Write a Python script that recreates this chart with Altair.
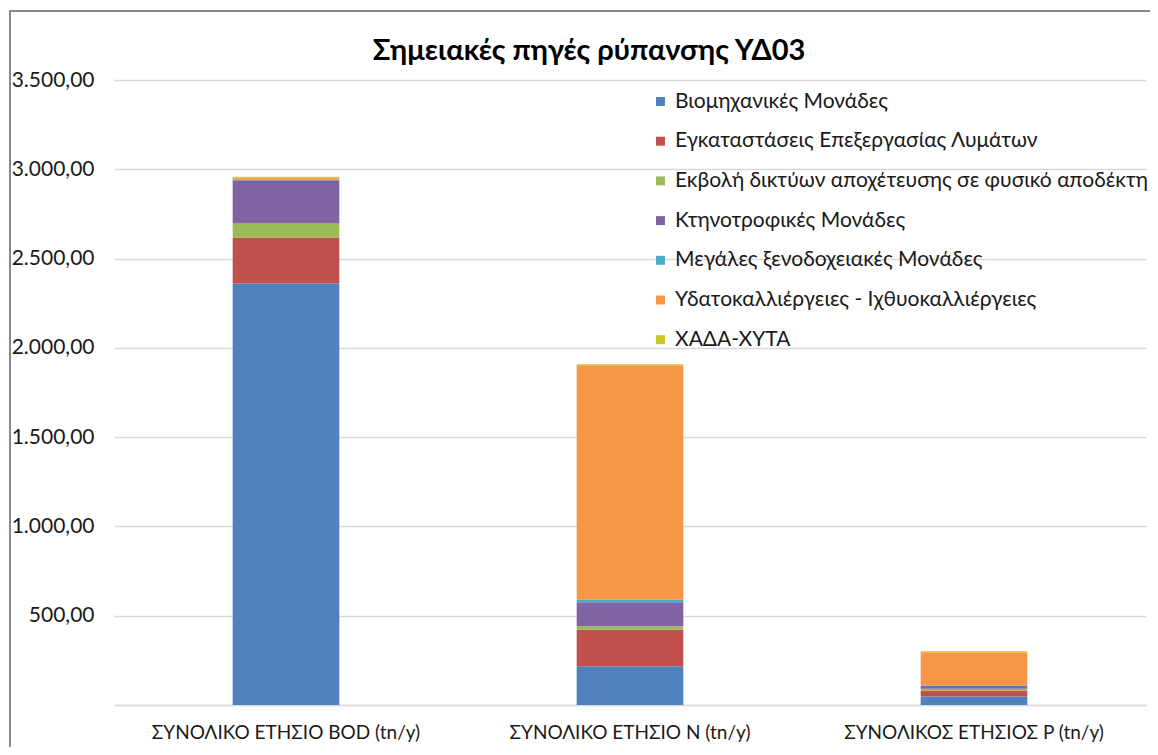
import altair as alt
import pandas as pd

categories = ["ΣΥΝΟΛΙΚΟ ΕΤΗΣΙΟ BOD (tn/y)", "ΣΥΝΟΛΙΚΟ ΕΤΗΣΙΟ N (tn/y)", "ΣΥΝΟΛΙΚΟΣ ΕΤΗΣΙΟΣ P (tn/y)"]
series = [
    "Βιομηχανικές Μονάδες",
    "Εγκαταστάσεις Επεξεργασίας Λυμάτων",
    "Εκβολή δικτύων αποχέτευσης σε φυσικό αποδέκτη",
    "Κτηνοτροφικές Μονάδες",
    "Μεγάλες ξενοδοχειακές Μονάδες",
    "Υδατοκαλλιέργειες - Ιχθυοκαλλιέργειες",
    "ΧΑΔΑ-ΧΥΤΑ",
]
colors = ["#4F81BD", "#C0504D", "#9BBB59", "#8064A2", "#4BACC6", "#F79646", "#C9C92A"]

bod_values = [2360, 258, 78, 243, 3, 12, 4]
n_values = [217, 205, 19, 135, 13, 1314, 5]
p_values = [47, 34, 10, 17, 3, 185, 5]

title_text = "Σημειακές πηγές ρύπανσης ΥΔ03"

rows = []
for cat, vals in zip(categories, [bod_values, n_values, p_values]):
    for i, (s, v) in enumerate(zip(series, vals)):
        rows.append({"category": cat, "series": s, "value": v, "idx": i})
df = pd.DataFrame(rows)

FONT = "Lato"
W, H = 1032, 625

y_label = ("datum.value == 0 ? '' : replace(replace(replace(format(datum.value, ',.2f'), ',', '#'), '.', ','), '#', '.')")

bars = alt.Chart(df).mark_bar().encode(
    x=alt.X("category:N", sort=categories,
            scale=alt.Scale(paddingInner=0.69, paddingOuter=0.345),
            axis=alt.Axis(title=None, labelAngle=0, labelFontSize=19, labelColor="#1a1a1a",
                          labelFont=FONT, ticks=False, domainColor="#d9d9d9", domainWidth=1.5,
                          labelPadding=18, labelLimit=500, grid=False)),
    y=alt.Y("value:Q", stack="zero",
            scale=alt.Scale(domain=[0, 3500], nice=False),
            axis=alt.Axis(title=None, values=[0, 500, 1000, 1500, 2000, 2500, 3000, 3500],
                          labelExpr=y_label, labelFontSize=21, labelColor="#1a1a1a", labelFont=FONT,
                          ticks=False, domain=False, labelPadding=20,
                          gridColor="#d9d9d9", gridWidth=1.5)),
    color=alt.Color("series:N", sort=series,
                    scale=alt.Scale(domain=series, range=colors),
                    legend=alt.Legend(title=None, orient="none", legendX=536, legendY=11,
                                      symbolType="square", symbolSize=80, symbolStrokeWidth=0,
                                      labelFontSize=21, labelFont=FONT, labelColor="#1a1a1a",
                                      labelOffset=4, rowPadding=17.7, labelLimit=600)),
    order=alt.Order("idx:Q", sort="ascending"),
)

frame = alt.Chart(pd.DataFrame({"a": [0]})).mark_rect(
    fill=None, stroke="#898989", strokeWidth=2
).encode(x=alt.value(-104), x2=alt.value(W + 20), y=alt.value(-69), y2=alt.value(H + 80))

title = alt.Chart(pd.DataFrame({"t": [title_text]})).mark_text(
    font=FONT, fontSize=29, fontWeight="bold", color="#000000", align="center", baseline="alphabetic"
).encode(text="t:N", x=alt.value(475), y=alt.value(-20))

chart = alt.layer(frame, bars, title).properties(
    width=W, height=H,
    autosize=alt.AutoSizeParams(type="none"),
    padding={"left": 106, "top": 72, "right": 4, "bottom": 42},
).configure_view(stroke=None)

chart.save("out.html", embed_options={"renderer": "svg", "actions": False})
